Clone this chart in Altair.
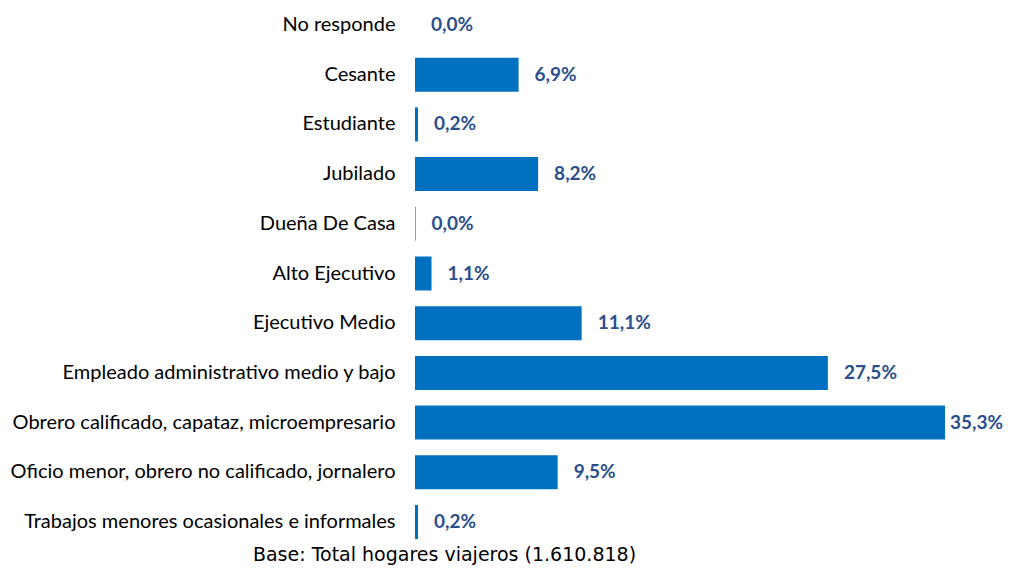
import altair as alt
import pandas as pd

categories = [
    "No responde",
    "Cesante",
    "Estudiante",
    "Jubilado",
    "Dueña De Casa",
    "Alto Ejecutivo",
    "Ejecutivo Medio",
    "Empleado administrativo medio y bajo",
    "Obrero calificado, capataz, microempresario",
    "Oficio menor, obrero no calificado, jornalero",
    "Trabajos menores ocasionales e informales",
]
values = [0.0, 6.9, 0.2, 8.2, 0.04, 1.1, 11.1, 27.5, 35.3, 9.5, 0.2]

df = pd.DataFrame({"cat": categories, "val": values})

y = alt.Y("cat:N", sort=categories,
          scale=alt.Scale(paddingInner=0.316, paddingOuter=0),
          axis=alt.Axis(title=None, ticks=False, domain=False, labelPadding=20,
                        labelFont="Lato", labelFontSize=20, labelColor="#000000",
                        labelLimit=500))
x = alt.X("val:Q", scale=alt.Scale(domain=[0, 36.5], nice=False, zero=True),
          axis=alt.Axis(title="Base: Total hogares viajeros (1.610.818)", labels=False, ticks=False,
                        domain=False, grid=False, titleFont="DejaVu Sans", titleFontSize=19,
                        titleFontWeight="normal", titleColor="#000000",
                        titleX=29, titleY=21, titleAlign="center", titleBaseline="alphabetic"))

bars = alt.Chart(df).mark_bar(color="#0070C0").encode(x=x, y=y)
base_txt = alt.Chart(df).transform_calculate(
    lab="replace(format(datum.val, '.1f'), '.', ',') + '%'"
)
txt_kw = dict(align="left", baseline="middle", font="Lato", fontSize=19,
              fontWeight="bold", color="#2A4F8C")
enc = dict(x="val:Q", y=alt.Y("cat:N", sort=categories), text="lab:N")
labels = base_txt.transform_filter("datum.val < 30").mark_text(dx=16, **txt_kw).encode(**enc)
labels_big = base_txt.transform_filter("datum.val >= 30").mark_text(dx=5, **txt_kw).encode(**enc)

chart = (bars + labels + labels_big).properties(
    width=548, height=531,
    autosize=alt.AutoSizeParams(type="none"),
    padding={"left": 407, "top": 0, "right": 40, "bottom": 26},
).configure_view(stroke=None)

chart.save("out.html", embed_options={"renderer": "svg", "actions": False})
